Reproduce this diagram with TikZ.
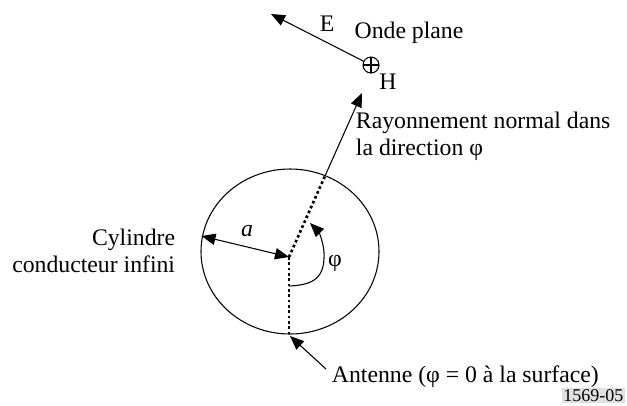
\documentclass[tikz,border=0pt]{standalone}
\usepackage{fontspec}
\setmainfont{Liberation Serif}
\usetikzlibrary{arrows.meta}
\begin{document}
\begin{tikzpicture}[x=0.75pt,y=-0.75pt,
  lbl/.style={font=\fontsize{17.8}{20}\selectfont, inner sep=2pt},
  arr/.style={-{Triangle[length=10.5pt,width=8.5pt]}, line width=0.8pt},
  dotline/.style={line width=2pt, dash pattern=on 2pt off 2pt},
  plainline/.style={line width=0.8pt}]
\useasboundingbox (0,0) rectangle (627,405);
% cylinder
\draw[plainline] (290,251.5) ellipse [x radius=89, y radius=82.5];
\coordinate (c) at (289,257);
\coordinate (top) at (325,176);
\coordinate (bot) at (289,334);
\coordinate (left) at (201.5,236);
\draw[dotline] (c) -- (top);
\draw[dotline] (c) -- (bot);
\coordinate (raytip) at (362,93);
\draw[arr] (top) -- (raytip);
% radius a
\draw[{Triangle[length=10.5pt,width=8.5pt]}-{Triangle[length=10.5pt,width=8.5pt]}, line width=0.8pt] (left) -- (c);
\node[lbl, font=\fontsize{17.8}{20}\selectfont\itshape] (a) at (247,231) {a};
% phi arc
\coordinate (arcstart) at (289,286);
\coordinate (arcend) at (310,223);
\draw[arr] (arcstart) .. controls (316,285) and (325,276) .. (324,252) .. controls (323,240) and (318,231) .. (arcend);
\node[lbl] (phi) at (335,263) {φ};
% antenna
\coordinate (antfrom) at (326,369);
\coordinate (anttip) at (290,336);
\draw[arr] (antfrom) -- (anttip);
\node[lbl, anchor=west] (ant) at (329,377) {Antenne (φ = 0 à la surface)};
% plane wave
\node[draw, circle, line width=0.8pt, minimum size=12pt, inner sep=0pt,
  path picture={\draw[line width=0.8pt] (path picture bounding box.north) -- (path picture bounding box.south)
   (path picture bounding box.west) -- (path picture bounding box.east);}] (H) at (371,65) {};
\coordinate (Etip) at (271,14);
\draw[arr] (H) -- (Etip);
\node[lbl] (Elbl) at (327,24) {E};
\node[lbl] (Hlbl) at (388,82) {H};
\node[lbl] (onde) at (409,33) {Onde plane};
\node[lbl, anchor=west, align=left, font=\fontsize{17.8}{20.5}\selectfont] (ray) at (353,136) {Rayonnement normal dans\\la direction φ};
\node[lbl, anchor=east, align=right, font=\fontsize{17.8}{20}\selectfont] (cyl) at (178,251) {Cylindre\\conducteur infini};
\node[anchor=south east, fill=black!12, inner sep=1pt, font=\fontsize{13.5}{15}\selectfont] (code) at (625,403) {1569-05};
\end{tikzpicture}
\end{document}
